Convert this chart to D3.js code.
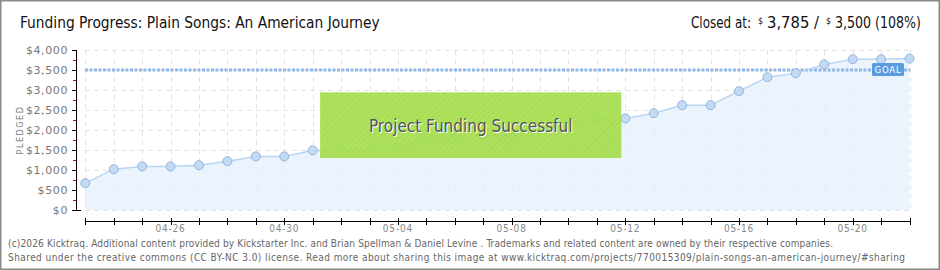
<!DOCTYPE html>
<html><head><meta charset="utf-8">
<script src="https://cdn.jsdelivr.net/npm/d3@7"></script>
<style>
body{margin:0;padding:0;background:#fff;}
svg{display:block;}
text{font-family:"DejaVu Sans Condensed","DejaVu Sans",sans-serif;}
</style></head>
<body>
<svg id="c" width="940" height="270"></svg>
<script>
const dates = ["04-23","04-24","04-25","04-26","04-27","04-28","04-29","04-30","05-01","05-02","05-03","05-04","05-05","05-06","05-07","05-08","05-09","05-10","05-11","05-12","05-13","05-14","05-15","05-16","05-17","05-18","05-19","05-20","05-21","05-22"];
const pledged = [670,1020,1090,1090,1120,1220,1340,1340,1490,1490,1490,1555,1830,1860,1860,1880,1990,2210,2280,2290,2420,2620,2620,2970,3320,3420,3640,3770,3770,3785];
const goal = 3500;
const yTicks = [0,500,1000,1500,2000,2500,3000,3500,4000];
const xTickLabels = ["04-26","04-30","05-04","05-08","05-12","05-16","05-20"];
const title = "Funding Progress: Plain Songs: An American Journey";
const closedParts = ["Closed at:", "$", "3,785 /", "$", "3,500 (108%)"];
const footer = ["(c)2026 Kicktraq. Additional content provided by Kickstarter Inc. and  Brian Spellman & Daniel Levine . Trademarks and related content are owned by their respective companies.",
"Shared under the creative commons (CC BY-NC 3.0) license. Read more about sharing this image at www.kicktraq.com/projects/770015309/plain-songs-an-american-journey/#sharing"];

const svg = d3.select("#c");
const x = d3.scalePoint().domain(dates).range([85.3, 909.5]);
const y = d3.scaleLinear().domain([0,4000]).range([210,50]);

// frame
svg.append("rect").attr("x",0.75).attr("y",0.75).attr("width",938.5).attr("height",268.5)
  .attr("fill","#fff").attr("stroke","#8a8a8a").attr("stroke-width",1.5);

const defs = svg.append("defs");
const pat = defs.append("pattern").attr("id","hatch").attr("patternUnits","userSpaceOnUse")
  .attr("width",4).attr("height",4).attr("patternTransform","rotate(45)");
pat.append("rect").attr("width",4).attr("height",4).attr("fill","#a8e050");
pat.append("line").attr("x1",0).attr("y1",0).attr("x2",0).attr("y2",4).attr("stroke","#9dd446").attr("stroke-width",1.5);

// grid
const g = svg.append("g");
g.selectAll(".hg").data(yTicks).join("line")
  .attr("x1",85).attr("x2",910).attr("y1",d=>y(d)+0.5).attr("y2",d=>y(d)+0.5)
  .attr("stroke","#e3e3e3").attr("stroke-dasharray","5,4");
g.selectAll(".vg").data(dates).join("line")
  .attr("x1",d=>Math.round(x(d))+0.5).attr("x2",d=>Math.round(x(d))+0.5).attr("y1",50).attr("y2",210)
  .attr("stroke","#e3e3e3").attr("stroke-dasharray","5,4");

// area
const area = d3.area().x((d,i)=>x(dates[i])).y0(y(0)).y1(d=>y(d));
g.append("path").datum(pledged).attr("d",area).attr("fill","#e6f0fc").attr("fill-opacity",0.8);

// goal line
g.append("line").attr("x1",85).attr("x2",910).attr("y1",y(goal)).attr("y2",y(goal))
  .attr("stroke","#8fb8e6").attr("stroke-width",3).attr("stroke-dasharray","3,1.5");

// line
const line = d3.line().x((d,i)=>x(dates[i])).y(d=>y(d));
g.append("path").datum(pledged).attr("d",line).attr("fill","none").attr("stroke","#b9d5f2").attr("stroke-width",1.5);
g.selectAll(".pt").data(pledged).join("circle")
  .attr("cx",(d,i)=>x(dates[i])).attr("cy",d=>y(d)).attr("r",4.5)
  .attr("fill","#c3daf5").attr("stroke","#94b4dc").attr("stroke-width",1);

// GOAL label
const gx = 872, gy = y(goal)-7;
g.append("rect").attr("x",gx).attr("y",gy).attr("width",32).attr("height",13).attr("rx",1.5)
  .attr("fill","#5b9be0");
g.append("text").attr("x",gx+16).attr("y",gy+10).attr("text-anchor","middle")
  .attr("fill","#fff").attr("font-size",9.5).attr("letter-spacing",0.8).text("GOAL");

// y axis
const ya = svg.append("g");
ya.append("line").attr("x1",76.5).attr("x2",76.5).attr("y1",50).attr("y2",210.5).attr("stroke","#000");
const minor = d3.range(250,4000,500);
ya.selectAll(".mn").data(minor).join("line").attr("x1",73).attr("x2",76).attr("y1",d=>y(d)+0.5).attr("y2",d=>y(d)+0.5).attr("stroke","#e00000");
ya.selectAll(".mj").data(yTicks).join("line").attr("x1",72).attr("y1",d=>y(d)+0.5).attr("y2",d=>y(d)+0.5).attr("stroke","#000")
  .attr("x2",d=>d===0?81:76);
ya.selectAll(".yl").data(yTicks).join("text").attr("x",68).attr("y",d=>y(d)+4).attr("text-anchor","end")
  .attr("font-size",11).attr("fill","#777").attr("letter-spacing",0.6).style("font-family","'DejaVu Sans',sans-serif")
  .text(d=>"$"+d3.format(",")(d));
svg.append("text").attr("transform","translate(23,130) rotate(-90)").attr("text-anchor","middle")
  .attr("font-size",9).attr("fill","#777").attr("letter-spacing",1.5).text("PLEDGED");

// x axis
const xa = svg.append("g");
xa.append("line").attr("x1",85).attr("x2",910.5).attr("y1",221.5).attr("y2",221.5).attr("stroke","#000");
xa.selectAll(".xt").data(dates).join("line").attr("x1",d=>Math.round(x(d))+0.5).attr("x2",d=>Math.round(x(d))+0.5)
  .attr("y1",218).attr("y2",225).attr("stroke","#000");
xa.selectAll(".xl").data(xTickLabels).join("text").attr("x",d=>x(d)).attr("y",232).attr("text-anchor","middle")
  .attr("font-size",10).attr("fill","#888").attr("letter-spacing",0.8).text(d=>d);

// success box
const bx0 = x("05-02")-21, bx1 = x("05-12")-4;
svg.append("rect").attr("x",bx0).attr("y",92).attr("width",bx1-bx0).attr("height",66)
  .attr("fill","url(#hatch)").attr("opacity",0.93);
svg.append("line").attr("x1",bx0).attr("x2",bx1).attr("y1",92.5).attr("y2",92.5).attr("stroke","#c4ec8c");
svg.append("text").attr("x",(bx0+bx1)/2+1).attr("y",133).attr("text-anchor","middle")
  .attr("font-size",17).attr("fill","#fff").text("Project Funding Successful");
svg.append("text").attr("x",(bx0+bx1)/2).attr("y",132).attr("text-anchor","middle")
  .attr("font-size",17).attr("fill","#555").text("Project Funding Successful");

// fit helper: scale a text horizontally to a target width
function fitText(sel, x0, y0, w) {
  const n = sel.node().getComputedTextLength();
  const s = n > 0 ? w / n : 1;
  sel.attr("x",0).attr("y",0).attr("transform",`translate(${x0},${y0}) scale(${s},1)`);
}

// title
fitText(svg.append("text").attr("font-size",16).attr("fill","#111").text(title), 20, 28, 360);
// closed-at parts, laid out left to right
const cx0 = [691, 758, 767, 826, 835], cw = [60, 5, 52, 5, 86];
closedParts.forEach((t,i)=>{
  const small = t === "$";
  const el = svg.append("text").attr("font-size",small?9:16).attr("fill","#111").text(t);
  fitText(el, cx0[i], small?24:28, cw[i]);
});

// footer
const fw = [825, 897];
svg.selectAll(".ft").data(footer).join("text").attr("x",8).attr("y",(d,i)=>247+i*14)
  .attr("font-size",10).attr("fill","#666").attr("textLength",(d,i)=>fw[i]).attr("lengthAdjust","spacing").text(d=>d);
</script>
</body></html>
